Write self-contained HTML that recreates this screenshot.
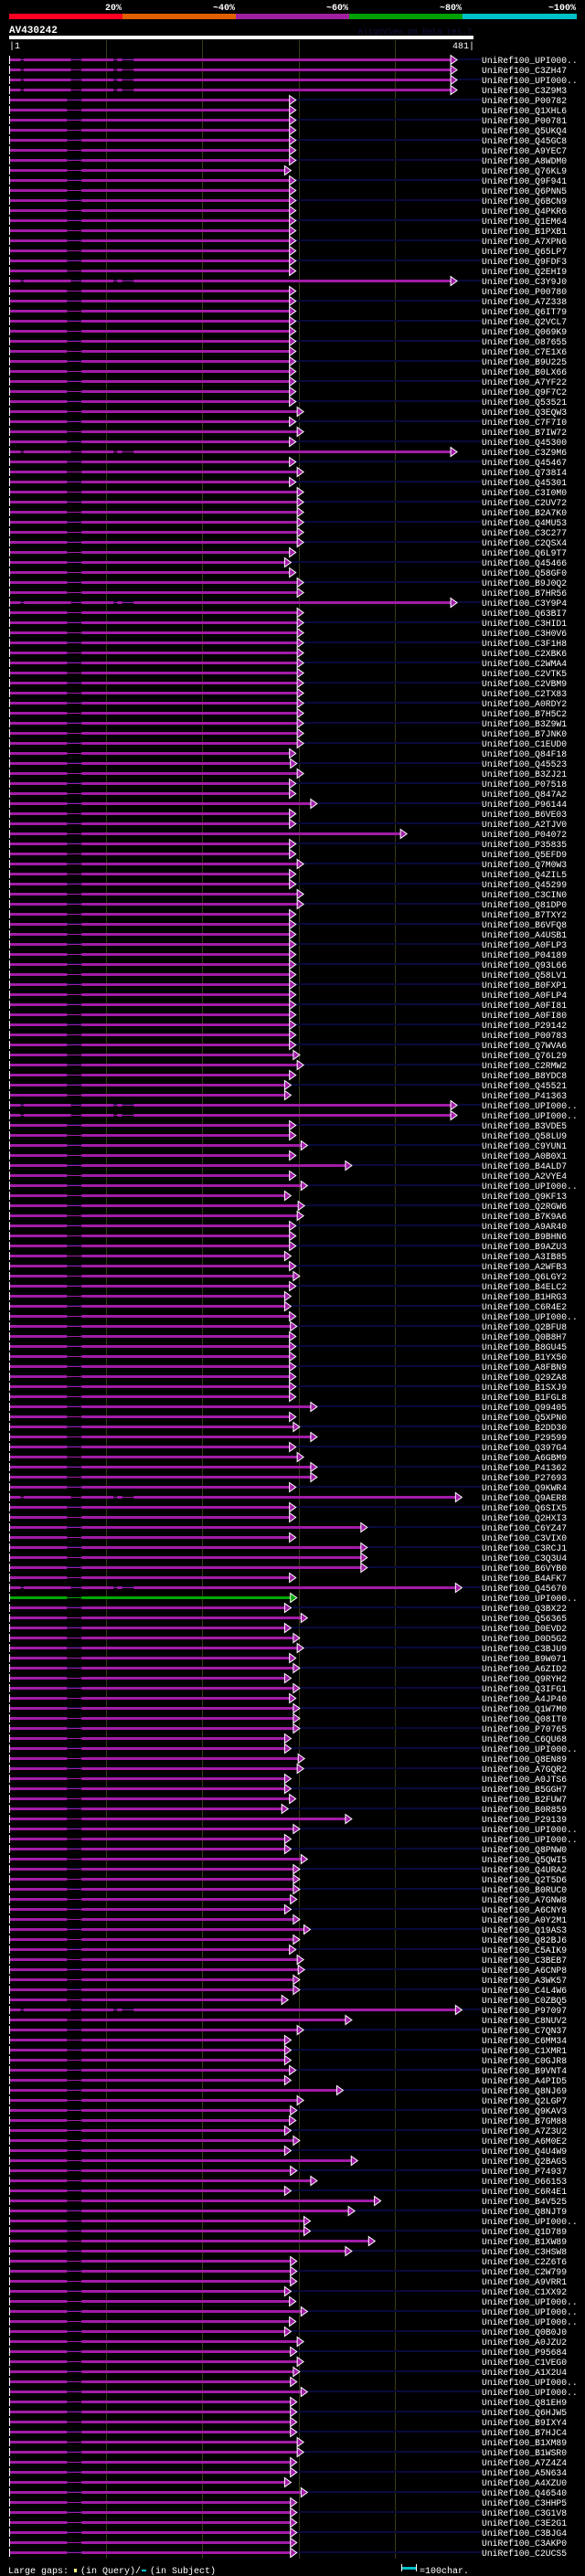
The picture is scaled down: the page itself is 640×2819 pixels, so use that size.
<!DOCTYPE html>
<html><head><meta charset="utf-8">
<style>
html,body{margin:0;padding:0;background:#000;}
body{width:640px;height:2819px;overflow:hidden;position:relative;font-family:"Liberation Mono","DejaVu Sans Mono",monospace;}
svg{position:absolute;left:0;top:0;}
text{font-family:"Liberation Mono","DejaVu Sans Mono",monospace;}
</style></head>
<body>
<svg id="chart" width="640" height="2819" viewBox="0 0 640 2819">
  <g>
    <rect x="10" y="15" width="124" height="6" fill="#ff0022"/>
    <rect x="134" y="15" width="124" height="6" fill="#e06000"/>
    <rect x="258" y="15" width="124" height="6" fill="#a020a0"/>
    <rect x="382" y="15" width="124" height="6" fill="#00a000"/>
    <rect x="506" y="15" width="125" height="6" fill="#00c0c8"/>
    <g fill="#fff" font-size="10" font-weight="bold" text-anchor="end">
      <text x="133" y="11">20%</text>
      <text x="257" y="11">~40%</text>
      <text x="381" y="11">~60%</text>
      <text x="505" y="11">~80%</text>
      <text x="630" y="11">~100%</text>
    </g>
  </g>
  <text x="10" y="36" fill="#fff" font-size="11" font-weight="bold">AV430242</text>
  <text x="516" y="37" fill="#101040" font-size="9" text-anchor="end">AlignView.pm Beta rel.7</text>
  <rect x="10" y="39" width="508" height="4" fill="#fff"/>
  <text x="10" y="53" fill="#fff" font-size="10">|1</text>
  <text x="519" y="53" fill="#fff" font-size="10" text-anchor="end">481|</text>
  <g id="grid"></g>
  <g id="rows"></g>
  <g>
    <text x="9" y="2816" fill="#fff" font-size="10">Large gaps:</text>
    <rect x="81" y="2811" width="3" height="4" fill="#ffff80"/>
    <text x="88" y="2816" fill="#fff" font-size="10">(in Query)/</text>
    <rect x="155" y="2812" width="5" height="2" fill="#00c0c8"/>
    <text x="164" y="2816" fill="#fff" font-size="10">(in Subject)</text>
    <rect x="439" y="2806" width="1" height="8" fill="#fff"/>
    <rect x="440" y="2809" width="15" height="3" fill="#00c0c8"/>
    <rect x="455" y="2806" width="1" height="8" fill="#fff"/>
    <text x="459" y="2816" fill="#fff" font-size="10">=100char.</text>
  </g>
</svg>
<script>
var queryLength = 481;
var gridTicks = [100, 200, 300, 400];
var hitNames = ["UPI000..","C3ZH47","UPI000..","C3Z9M3","P00782","Q1XHL6","P00781","Q5UKQ4","Q45GC8","A9YEC7","A8WDM0","Q76KL9","Q9F941","Q6PNN5","Q6BCN9","Q4PKR6","Q1EM64","B1PXB1","A7XPN6","Q65LP7","Q9FDF3","Q2EHI9","C3Y9J0","P00780","A7Z338","Q6IT79","Q2VCL7","Q069K9","O87655","C7E1X6","B9U225","B0LX66","A7YF22","Q9F7C2","Q53521","Q3EQW3","C7F7I0","B7IW72","Q45300","C3Z9M6","Q45467","Q738I4","Q45301","C3I0M0","C2UV72","B2A7K0","Q4MU53","C3C277","C2QSX4","Q6L9T7","Q45466","Q58GF0","B9J0Q2","B7HR56","C3Y9P4","Q63BI7","C3HID1","C3H0V6","C3F1H8","C2XBK6","C2WMA4","C2VTK5","C2VBM9","C2TX83","A0RDY2","B7H5C2","B3Z9W1","B7JNK0","C1EUD0","Q84F18","Q45523","B3ZJ21","P07518","Q847A2","P96144","B6VE03","A2TJV0","P04072","P35835","Q5EFD9","Q7M0W3","Q4ZIL5","Q45299","C3CIN0","Q81DP0","B7TXY2","B6VFQ8","A4USB1","A0FLP3","P04189","Q93L66","Q58LV1","B0FXP1","A0FLP4","A0FI81","A0FI80","P29142","P00783","Q7WVA6","Q76L29","C2RMW2","B8YDC8","Q45521","P41363","UPI000..","UPI000..","B3VDE5","Q58LU9","C9YUN1","A0B0X1","B4ALD7","A2VYE4","UPI000..","Q9KF13","Q2RGW6","B7K9A6","A9AR40","B9BHN6","B9AZU3","A3IB85","A2WFB3","Q6LGY2","B4ELC2","B1HRG3","C6R4E2","UPI000..","Q2BFU8","Q0B8H7","B8GU45","B1YX50","A8FBN9","Q29ZA8","B1SXJ9","B1FGL8","Q99405","Q5XPN0","B2DD30","P29599","Q397G4","A6GBM9","P41362","P27693","Q9KWR4","Q9AER8","Q6SIX5","Q2HXI3","C6YZ47","C3VIX0","C3RCJ1","C3Q3U4","B6VYB0","B4AFK7","Q45670","UPI000..","Q3BX22","Q56365","D0EVD2","D0D5G2","C3BJU9","B9W071","A6ZID2","Q9RYH2","Q3IFG1","A4JP40","Q1W7M0","Q08IT0","P70765","C6QU68","UPI000..","Q8EN89","A7GQR2","A0JTS6","B5GGH7","B2FUW7","B0R859","P29139","UPI000..","UPI000..","Q8PNW0","Q5QWI5","Q4URA2","Q2T5D6","B0RUC0","A7GNW8","A6CNY8","A0Y2M1","Q19AS3","Q82BJ6","C5AIK9","C3BEB7","A6CNP8","A3WK57","C4L4W6","C0ZBQ5","P97097","C8NUV2","C7QN37","C6MM34","C1XMR1","C0GJR8","B9VNT4","A4PID5","Q8NJ69","Q2LGP7","Q9KAV3","B7GM88","A7Z3U2","A6M0E2","Q4U4W9","Q2BAG5","P74937","O66153","C6R4E1","B4V525","Q8NJT9","UPI000..","Q1D789","B1XW89","C3HSW8","C2Z6T6","C2W799","A9VRR1","C1XX92","UPI000..","UPI000..","UPI000..","Q0B0J0","A0JZU2","P95684","C1VEG0","A1X2U4","UPI000..","UPI000..","Q81EH9","Q6HJW5","B9IXY4","B7HJC4","B1XM89","B1WSR0","A7Z4Z4","A5N634","A4XZU0","Q46540","C3HHP5","C3G1V8","C3E2G1","C3BJG4","C3AKP0","C2UCS5"];
var hitEnds = [464,464,464,464,297,297,297,297,297,297,297,292,297,297,297,297,297,297,297,297,297,297,464,297,297,297,297,297,297,297,297,297,297,297,297,305,297,305,297,464,297,305,297,305,305,305,305,305,305,297,292,297,305,305,464,305,305,305,305,305,305,305,305,305,305,305,305,305,305,297,298,305,297,297,319,297,297,412,297,297,305,297,297,305,305,297,297,297,297,297,297,297,297,297,297,297,297,297,297,301,305,297,292,292,464,464,297,297,309,297,355,297,309,292,306,305,297,297,297,292,297,301,297,292,292,297,298,297,297,297,297,297,297,297,319,297,301,319,297,305,319,319,297,469,297,297,371,297,371,371,371,297,469,298,292,309,292,301,305,297,301,292,301,297,301,301,301,292,292,306,305,292,292,297,289,355,301,292,292,309,301,301,301,298,292,301,312,301,297,305,306,301,301,289,469,355,305,292,292,292,297,292,346,305,298,297,292,301,292,361,298,319,292,385,358,312,312,379,355,298,298,298,292,297,309,297,292,305,298,305,301,298,309,298,298,298,298,305,305,298,298,292,309,298,298,298,298,298,298];
var greenRows = [153];
var longGapRows = [0,1,2,3,22,39,54,104,105,143,152,194];

var NS = "http://www.w3.org/2000/svg";
function xs(c){ return 10 + c * (508 / queryLength); }
function ys(i){ return 65 + i * 11; }
function mk(tag, attrs, parent){
  var el = document.createElementNS(NS, tag);
  for (var k in attrs) el.setAttribute(k, attrs[k]);
  parent.appendChild(el);
  return el;
}
var grid = document.getElementById('grid');
gridTicks.forEach(function(t){
  var l = mk('rect', {x: Math.round(xs(t)), y: 44, width: 1, height: 2756, fill: '#3a3a12'}, grid);
  
  
});
var rows = document.getElementById('rows');
hitNames.forEach(function(nm, i){
  var y = ys(i);
  var g = mk('g', {}, rows);
  
  
  if (i % 2 === 0) {
    var s = mk('rect', {x: 10, y: y - 1, width: 517, height: 2, fill: '#0a0a3c'}, g);
    
    
  }
  var col = greenRows.indexOf(i) >= 0 ? '#00a800' : '#a21ca8';
  var endX = xs(hitEnds[i]);
  var segs;
  if (longGapRows.indexOf(i) >= 0) segs = [[0,12],[14,64],[74,108],[111,117],[128,hitEnds[i]]];
  else segs = [[0,60],[74,hitEnds[i]]];
  var tipBase = endX - 7;
  for (var k = 0; k < segs.length; k++) {
    var a = xs(segs[k][0]) + 1, b = Math.min(xs(segs[k][1]), tipBase);
    var r = mk('rect', {x: a, y: y - 1, width: Math.max(0, b - a), height: 3, fill: col}, g);
    
    
    if (k < segs.length - 1) {
      var t = mk('rect', {x: b, y: y, width: xs(segs[k+1][0]) + 1 - b, height: 1, fill: col}, g);
      
      
    }
  }
  var tick = mk('rect', {x: 10, y: y - 4, width: 1, height: 9, fill: '#fff'}, g);
  
  
  var tri = mk('polygon', {points: tipBase + ',' + (y - 4.5) + ' ' + endX + ',' + (y + 0.5) + ' ' + tipBase + ',' + (y + 5.5), fill: col, stroke: '#fff', 'stroke-width': 1}, g);
  
  
  var lab = mk('text', {x: 527, y: y + 4, fill: '#fff', 'font-size': '9.7'}, g);
  lab.textContent = 'UniRef100_' + nm;
  
  
});
</script>
</body></html>
